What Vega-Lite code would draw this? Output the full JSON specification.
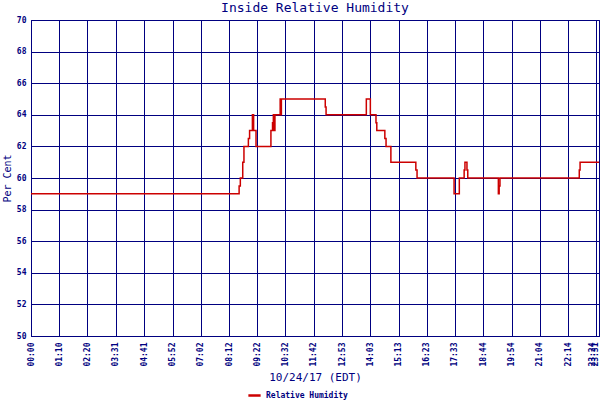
{
  "$schema": "https://vega.github.io/schema/vega-lite/v6.json",
  "width": 568,
  "height": 316,
  "autosize": "none",
  "padding": {"left": 31, "top": 20, "right": 1, "bottom": 64},
  "background": "white",
  "title": {
    "text": "Inside Relative Humidity",
    "font": "DejaVu Sans Mono",
    "fontSize": 13,
    "fontWeight": "normal",
    "color": "#000080",
    "anchor": "middle",
    "offset": 1
  },
  "data": {
    "values": [
      {"minute": 0, "rh": 59},
      {"minute": 517, "rh": 59.5},
      {"minute": 520, "rh": 60},
      {"minute": 526, "rh": 61},
      {"minute": 529, "rh": 62},
      {"minute": 540, "rh": 62.5},
      {"minute": 543, "rh": 63},
      {"minute": 550, "rh": 64},
      {"minute": 553, "rh": 63},
      {"minute": 559, "rh": 62},
      {"minute": 596, "rh": 63},
      {"minute": 600, "rh": 63.5},
      {"minute": 602, "rh": 64},
      {"minute": 603, "rh": 63},
      {"minute": 604, "rh": 64},
      {"minute": 605, "rh": 63},
      {"minute": 606, "rh": 64},
      {"minute": 619, "rh": 65},
      {"minute": 621, "rh": 64},
      {"minute": 622, "rh": 65},
      {"minute": 731, "rh": 64.5},
      {"minute": 733, "rh": 64},
      {"minute": 833, "rh": 65},
      {"minute": 843, "rh": 64},
      {"minute": 857, "rh": 63.5},
      {"minute": 859, "rh": 63},
      {"minute": 879, "rh": 62.5},
      {"minute": 882, "rh": 62},
      {"minute": 894, "rh": 61},
      {"minute": 956, "rh": 60.5},
      {"minute": 959, "rh": 60},
      {"minute": 1051, "rh": 59},
      {"minute": 1064, "rh": 60},
      {"minute": 1076, "rh": 60.5},
      {"minute": 1078, "rh": 61},
      {"minute": 1083, "rh": 60.5},
      {"minute": 1085, "rh": 60},
      {"minute": 1161, "rh": 59},
      {"minute": 1163, "rh": 59.5},
      {"minute": 1165, "rh": 60},
      {"minute": 1362, "rh": 60.5},
      {"minute": 1364, "rh": 61},
      {"minute": 1411, "rh": 61}
    ]
  },
  "transform": [
    {"calculate": "'Relative Humidity'", "as": "series"}
  ],
  "mark": {"type": "line", "interpolate": "step-after", "strokeWidth": 1.5},
  "encoding": {
    "x": {
      "field": "minute",
      "type": "quantitative",
      "scale": {"domain": [0, 1411], "nice": false, "zero": false},
      "axis": {
        "values": [0, 70, 140, 211, 281, 352, 422, 492, 562, 632, 702, 773, 843, 913, 983, 1053, 1124, 1194, 1264, 1334, 1404, 1411],
        "labelExpr": "(datum.value < 600 ? '0' : '') + floor(datum.value / 60) + ':' + (datum.value % 60 < 10 ? '0' : '') + (datum.value % 60)",
        "labelAngle": -90,
        "labelAlign": "right",
        "labelBaseline": {"condition": {"test": "datum.value > 1400", "value": "bottom"}, "value": "middle"},
        "labelOverlap": false,
        "labelBound": false,
        "labelFlush": false,
        "labelPadding": 6,
        "labelFont": "DejaVu Sans Mono",
        "labelFontSize": 8,
        "labelFontWeight": "bold",
        "labelColor": "#000080",
        "ticks": false,
        "grid": true,
        "gridColor": "#000080",
        "gridOpacity": 1,
        "gridWidth": 1,
        "domainColor": "#000080",
        "title": "10/24/17 (EDT)",
        "titleFont": "DejaVu Sans Mono",
        "titleFontSize": 11,
        "titleFontWeight": "normal",
        "titleColor": "#000080",
        "titlePadding": 5
      }
    },
    "y": {
      "field": "rh",
      "type": "quantitative",
      "scale": {"domain": [50, 70], "nice": false, "zero": false},
      "axis": {
        "values": [50, 52, 54, 56, 58, 60, 62, 64, 66, 68, 70],
        "labelFont": "DejaVu Sans Mono",
        "labelFontSize": 8,
        "labelFontWeight": "bold",
        "labelColor": "#000080",
        "labelPadding": 5,
        "ticks": false,
        "grid": true,
        "gridColor": "#000080",
        "gridOpacity": 1,
        "gridWidth": 1,
        "domainColor": "#000080",
        "title": "Per Cent",
        "titleFont": "DejaVu Sans Mono",
        "titleFontSize": 10,
        "titleFontWeight": "normal",
        "titleColor": "#000080",
        "titlePadding": 4
      }
    },
    "color": {
      "field": "series",
      "type": "nominal",
      "scale": {"range": ["#cc0000"]},
      "legend": {
        "title": null,
        "orient": "none",
        "legendX": 216,
        "legendY": 368,
        "symbolType": "stroke",
        "symbolStrokeWidth": 2.5,
        "symbolSize": 150,
        "labelFont": "DejaVu Sans Mono",
        "labelFontSize": 8,
        "labelFontWeight": "bold",
        "labelColor": "#000080"
      }
    }
  },
  "config": {
    "view": {"stroke": "#000080", "strokeWidth": 1}
  }
}
